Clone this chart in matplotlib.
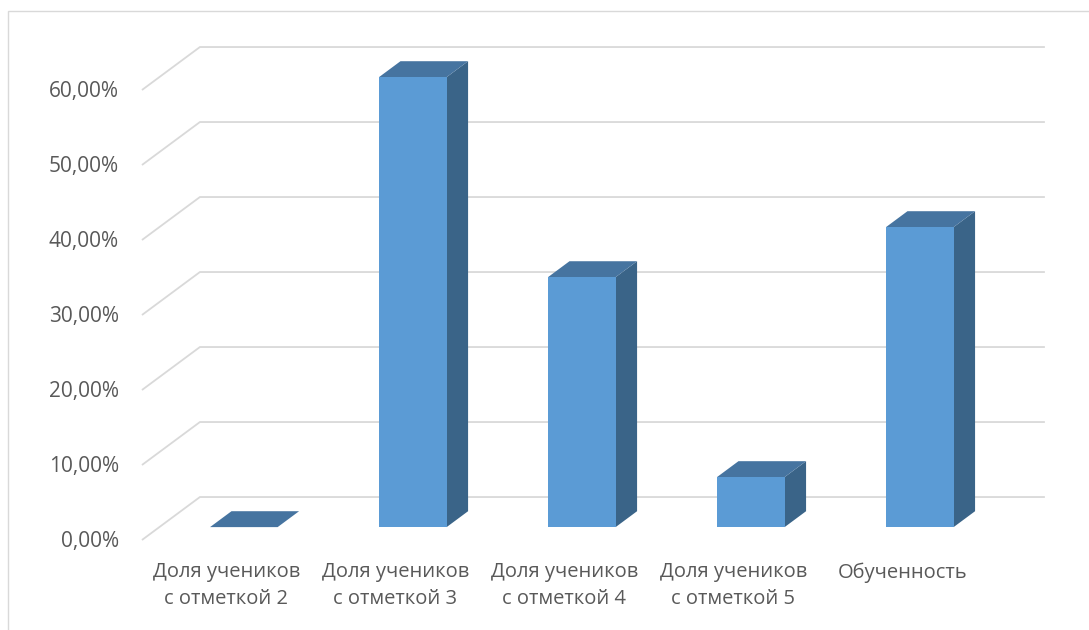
import matplotlib.pyplot as plt
from matplotlib.patches import Polygon, Rectangle

categories = ['Доля учеников\nс отметкой 2', 'Доля учеников\nс отметкой 3',
              'Доля учеников\nс отметкой 4', 'Доля учеников\nс отметкой 5',
              'Обученность']
values = [0.0, 60.0, 33.33, 6.67, 40.0]
ticks = [0, 10, 20, 30, 40, 50, 60]
tick_labels = ['0,00%', '10,00%', '20,00%', '30,00%', '40,00%', '50,00%', '60,00%']

plt.rcParams['font.family'] = ['Open Sans', 'DejaVu Sans']

# depth projection (category units, percent units)
DX, DY = 0.343, 5.73
D0, D1 = 0.30, 0.67
W = 0.4

front_c = '#5b9bd5'
top_c = '#4674a0'
side_c = '#3a6488'
grid_c = '#d9d9d9'
txt_c = '#595959'

fig = plt.figure(figsize=(10.89, 6.30), dpi=100)
ax = fig.add_axes([0, 0, 1, 1])
ax.set_xlim(-0.840, 5.604)
ax.set_ylim(-12, 72)
ax.axis('off')

# outer frame
fig.patches.append(Rectangle((8 / 1089, -0.1), 1.2, 1 - 11 / 630 + 0.1,
                             transform=fig.transFigure, fill=False,
                             edgecolor='#d9d9d9', lw=1.0))

n = len(categories)
for t, lab in zip(ticks, tick_labels):
    ax.plot([0, DX, n + DX], [t, t + DY, t + DY], color=grid_c, lw=1.3,
            solid_capstyle='butt', zorder=1)
    ax.text(-0.136, t - 0.2, lab, ha='right', va='center', fontsize=15, color=txt_c)

for i, (cat, v) in enumerate(zip(categories, values)):
    x0 = i + 0.3 + D0 * DX
    x1 = x0 + W
    y0 = D0 * DY
    y1 = y0 + v
    ddx = (D1 - D0) * DX
    ddy = (D1 - D0) * DY
    # side face
    ax.add_patch(Polygon([(x1, y0), (x1 + ddx, y0 + ddy), (x1 + ddx, y1 + ddy), (x1, y1)],
                         closed=True, facecolor=side_c, edgecolor='none', zorder=3))
    # top face
    ax.add_patch(Polygon([(x0, y1), (x1, y1), (x1 + ddx, y1 + ddy), (x0 + ddx, y1 + ddy)],
                         closed=True, facecolor=top_c, edgecolor='none', zorder=3))
    # front face
    if v > 0:
        ax.add_patch(Polygon([(x0, y0), (x1, y0), (x1, y1), (x0, y1)],
                             closed=True, facecolor=front_c, edgecolor='none', zorder=4))
    ax.text(i + 0.5, -3.0, cat, ha='center', va='top', fontsize=14.5, color=txt_c,
            linespacing=1.45, multialignment='center')

fig.savefig('out.png', dpi=100)
